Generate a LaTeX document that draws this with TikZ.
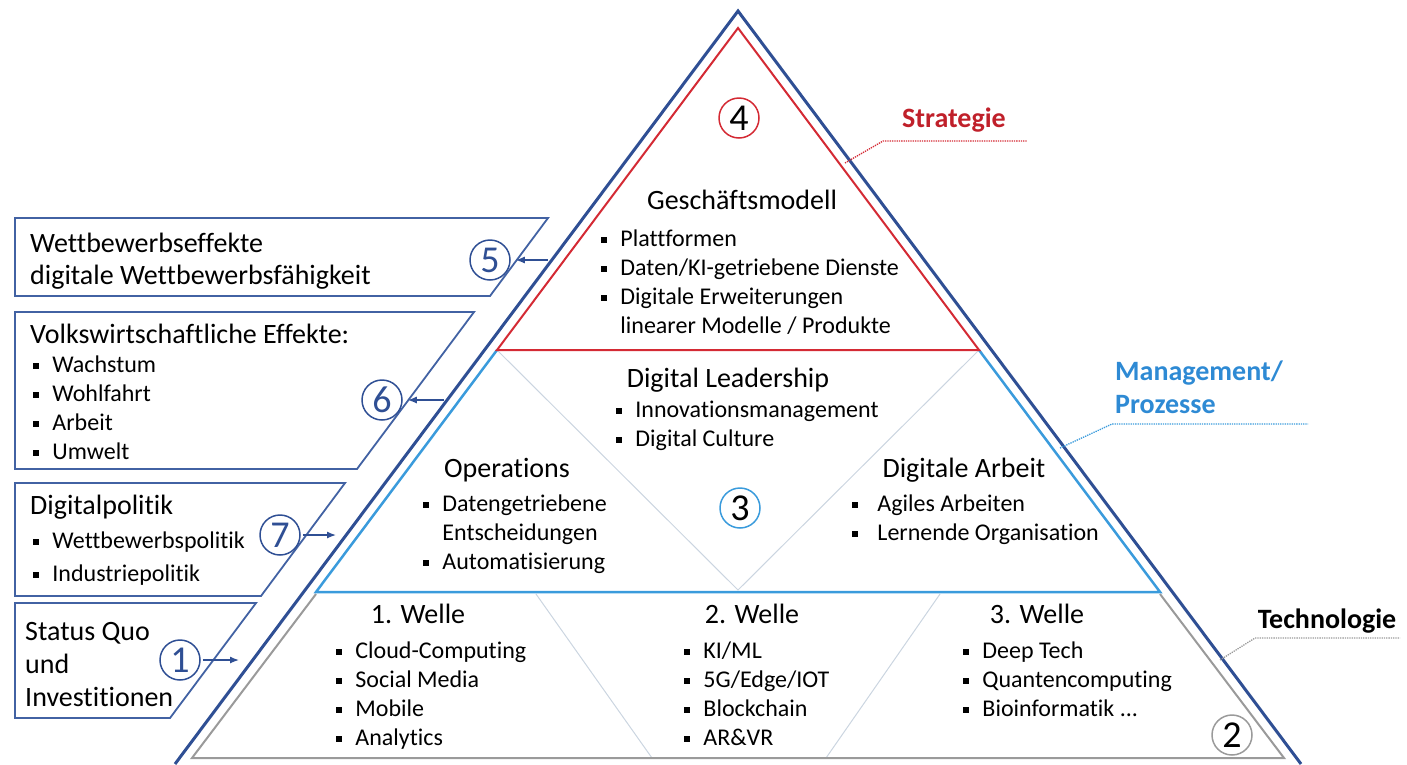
\documentclass[tikz,border=0pt]{standalone}
\usepackage{fontspec}
\setmainfont{Carlito}[Ligatures={NoCommon}]
\usetikzlibrary{arrows.meta}
\definecolor{pyrblue}{HTML}{2F4F94}
\definecolor{boxblue}{HTML}{4262A3}
\definecolor{stratred}{HTML}{D42A34}
\definecolor{stratlbl}{HTML}{C0202A}
\definecolor{mgmtblue}{HTML}{3A9BDC}
\definecolor{mgmtlbl}{HTML}{2E8AD4}
\definecolor{techgray}{HTML}{9A9A9A}
\definecolor{faint}{HTML}{CBD5E0}
\newcommand{\bsq}{\raisebox{0.12em}{\rule{0.26em}{0.26em}}}
\newcommand{\itm}[1][13pt]{\bsq\hspace{#1}}
\newcommand{\hang}[1][13pt]{\hphantom{\bsq\hspace{#1}}}
\begin{document}
\begin{tikzpicture}[x=1pt,y=-1pt,
  ttl/.style={font=\fontsize{28}{32}\selectfont, anchor=base, inner sep=0},
  lst/.style={font=\fontsize{24}{29}\selectfont, anchor=north west, align=left, inner sep=0},
  lbl/.style={font=\fontsize{28}{32}\selectfont, anchor=north west, align=left, inner sep=0},
  num/.style={circle, draw, line width=1.5pt, minimum size=40pt, inner sep=0, font=\fontsize{38}{38}\selectfont},
  lbox/.style={draw=boxblue, line width=1.8pt, line join=miter},
  arr/.style={draw=pyrblue, line width=1.3pt, -{Latex[length=9pt,width=7pt]}},
  callout/.style={densely dotted, line width=1.3pt},
  faintline/.style={draw=faint, line width=1pt},
  side/.style={font=\bfseries\fontsize{28}{33}\selectfont, inner sep=0}
]
\useasboundingbox (0,0) rectangle (1407,764);

% --- pyramid layers
\draw[faintline] (497,350) -- (738,590) -- (979,350);
\draw[faintline] (536,594) -- (652,758);
\draw[faintline] (940,594) -- (826,758);
\draw[techgray, line width=2pt] (316,594) -- (192,758) -- (1284,758) -- (1160,594);
\draw[mgmtblue, line width=2.5pt] (497,350) -- (316,592) -- (1160,592) -- (979,350);
\draw[stratred, line width=2pt, line join=miter] (497,350) -- (738,28) -- (979,350) -- cycle;
\draw[pyrblue, line width=3pt, line join=miter] (175,764) -- (738,11) -- (1301,764);

% --- left boxes
\draw[lbox] (15,218) -- (548,218) -- (490,296) -- (15,296) -- cycle;
\draw[lbox] (15,312) -- (474,312) -- (357,469) -- (15,469) -- cycle;
\draw[lbox] (15,483) -- (345,483) -- (261,596) -- (15,596) -- cycle;
\draw[lbox] (15,603) -- (256,603) -- (170,718) -- (15,718) -- cycle;

% --- callouts
\coordinate (s1) at (845,163); \coordinate (s2) at (883,141); \coordinate (s3) at (1027,141);
\draw[callout, stratred] (s1) -- (s2) -- (s3);
\node[side, text=stratlbl, anchor=base] (strat) at (954,127) {Strategie};
\coordinate (m1) at (1060,448); \coordinate (m2) at (1112,424); \coordinate (m3) at (1308,424);
\draw[callout, mgmtblue] (m1) -- (m2) -- (m3);
\node[side, text=mgmtlbl, anchor=north west, align=left] (mgmt) at (1115,357) {\strut Management/\\Prozesse};
\coordinate (t1) at (1220,660); \coordinate (t2) at (1255,638); \coordinate (t3) at (1400,638);
\draw[callout, techgray] (t1) -- (t2) -- (t3);
\node[side, anchor=base] (tech) at (1327,628) {Technologie};

% --- Strategie layer
\node[ttl] (gm) at (742,209) {Geschäftsmodell};
\node[lst] (gml) at (601,225.7) {\strut\itm Plattformen\\\itm Daten/KI-getriebene Dienste\\\itm Digitale Erweiterungen\\\hang linearer Modelle / Produkte};

% --- Management layer
\node[ttl] (dl) at (728,387) {Digital Leadership};
\node[lst] (dll) at (616,396.7) {\strut\itm Innovationsmanagement\\\itm Digital Culture};
\node[ttl] (op) at (507,477) {Operations};
\node[lst] (opl) at (423,490.7) {\strut\itm Datengetriebene\\\hang Entscheidungen\\\itm Automatisierung};
\node[ttl] (da) at (964,477) {Digitale Arbeit};
\node[lst] (dal) at (852,490.7) {\strut\itm[19pt]Agiles Arbeiten\\\itm[19pt]Lernende Organisation};

% --- Technologie layer
\node[ttl] (w1) at (418,623) {1. Welle};
\node[lst] (w1l) at (336,637.7) {\strut\itm Cloud-Computing\\\itm Social Media\\\itm Mobile\\\itm Analytics};
\node[ttl] (w2) at (752,623) {2. Welle};
\node[lst] (w2l) at (684,637.7) {\strut\itm KI/ML\\\itm 5G/Edge/IOT\\\itm Blockchain\\\itm AR\&VR};
\node[ttl] (w3) at (1037,623) {3. Welle};
\node[lst] (w3l) at (963,637.7) {\strut\itm Deep Tech\\\itm Quantencomputing\\\itm Bioinformatik ...};

% --- left box texts
\node[lbl] (b5) at (30,229.6) {\strut Wettbewerbseffekte\\digitale Wettbewerbsfähigkeit};
\node[font=\fontsize{28}{30}\selectfont, anchor=base west, inner sep=0] (b6t) at (30,343) {Volkswirtschaftliche Effekte:};
\node[lst] (b6l) at (33,351.7) {\strut\itm Wachstum\\\itm Wohlfahrt\\\itm Arbeit\\\itm Umwelt};
\node[font=\fontsize{28}{30}\selectfont, anchor=base west, inner sep=0] (b7t) at (30,514) {Digitalpolitik};
\node[lst, font=\fontsize{24}{33}\selectfont] (b7l) at (33,524.9) {\strut\itm Wettbewerbspolitik\\\itm Industriepolitik};
\node[lbl, font=\fontsize{28}{33}\selectfont] (b1) at (25,616.9) {\strut Status Quo\\und\\Investitionen};

% --- numbered circles
\node[num, draw=stratred] (c4) at (739,118) {4};
\node[num, draw=pyrblue, text=pyrblue] (c5) at (490,260) {5};
\node[num, draw=pyrblue, text=pyrblue] (c6) at (382,400) {6};
\node[num, draw=pyrblue, text=pyrblue] (c7) at (280,535) {7};
\node[num, draw=pyrblue, text=pyrblue] (c1) at (180,660) {1};
\node[num, draw=mgmtblue] (c3) at (740,508) {3};
\node[num, draw=techgray] (c2) at (1232,735) {2};

% --- arrows
\coordinate (e5) at (548,260);
\coordinate (e6) at (444,400);
\coordinate (e7) at (336,535);
\coordinate (e1) at (239,660);
\draw[arr, shorten >=5pt] (e5) -- (c5);
\draw[arr, shorten >=5pt] (e6) -- (c6);
\draw[arr, shorten <=2pt] (c7) -- (e7);
\draw[arr, shorten <=2pt] (c1) -- (e1);
\end{tikzpicture}
\end{document}
